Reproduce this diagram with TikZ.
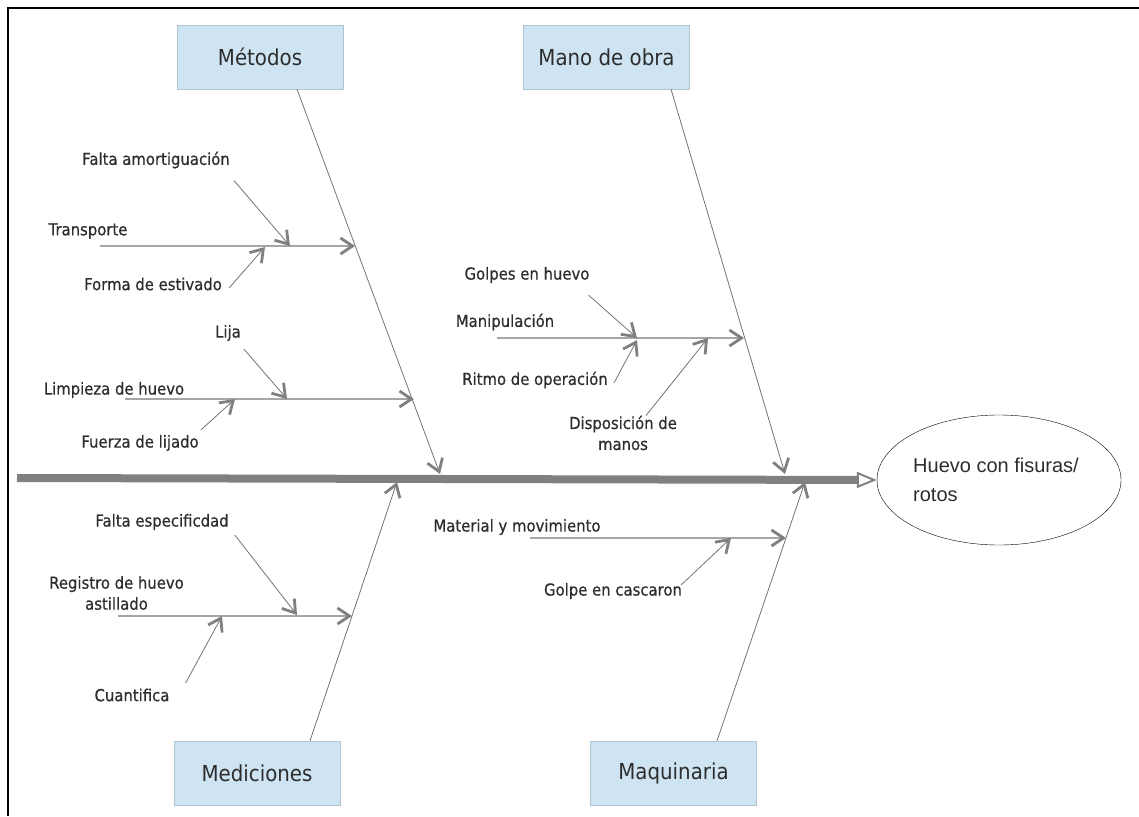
\documentclass[tikz,border=0pt]{standalone}
\usepackage{fontspec}
\usepackage{xcolor}
\usepackage{tikz}
\usetikzlibrary{arrows.meta, shapes.geometric, positioning, calc}
\newfontfamily\boxfont{DejaVu Sans}[FakeStretch=0.9]
\newfontfamily\lblfont{DejaVu Sans}[FakeStretch=0.9, FakeBold=0.6]
\newfontfamily\effont{Liberation Sans}
\definecolor{boxblue}{RGB}{207,228,242}
\definecolor{boxedge}{RGB}{176,196,212}
\definecolor{spinegray}{RGB}{128,128,128}
\definecolor{txtgray}{RGB}{45,45,45}
\tikzset{
  catarrow/.tip={Straight Barb[length=12pt, width=16pt, line width=2.8pt, color=spinegray]},
  catbox/.style={draw=boxedge, fill=boxblue, minimum width=166pt, minimum height=64pt,
    inner sep=0pt, text=txtgray, font=\boxfont\fontsize{22}{26}\selectfont},
  lbl/.style={text=txtgray, inner sep=0pt, align=center, font=\lblfont\fontsize{16.5}{21}\selectfont},
  bone/.style={draw=black!55, line width=0.8pt, -catarrow},
  subbone/.style={draw=black!35, line width=1.5pt, -catarrow},
  twig/.style={draw=black!55, line width=0.8pt, -catarrow},
}

\begin{document}
\begin{tikzpicture}[x=1pt, y=-1pt]
  \useasboundingbox (0,0) rectangle (1139,816);
  \draw[line width=1.6pt] (1139,8) -- (8,8) -- (8,816);

  \node[catbox] (metodos)    at (260,57)    {Métodos};
  \node[catbox] (manoobra)   at (606.5,57)  {Mano de obra};
  \node[catbox] (mediciones) at (257,773)   {Mediciones};
  \node[catbox] (maquinaria) at (673.5,773) {Maquinaria};
  \node[draw, ellipse, minimum width=244pt, minimum height=130pt, inner sep=0pt, align=left,
    text=txtgray, font=\effont\fontsize{20}{29}\selectfont] (efecto) at (999,480)
    {\hspace*{-6pt}Huevo con fisuras/\\\hspace*{-6pt}rotos};

  \coordinate (cola) at (17,478);
  \draw[line width=8pt, draw=spinegray,
    -{Triangle[open, length=20pt, width=16pt, line width=2pt, color=spinegray]}] (cola) -- (efecto.west);

  \coordinate (met)  at (440,474);
  \coordinate (mano) at (785,474);
  \coordinate (med)  at (397,482);
  \coordinate (maq)  at (805,482);
  \draw[bone] ([xshift=37pt]metodos.south) -- (met);
  \draw[bone] ([xshift=64.5pt]manoobra.south) -- (mano);
  \draw[bone] ([xshift=53pt]mediciones.north) -- (med);
  \draw[bone] ([xshift=43.5pt]maquinaria.north) -- (maq);

  \node[lbl] (transporte) at (88,231)   {Transporte};
  \node[lbl] (famort)     at (156,160)  {Falta amortiguación};
  \node[lbl] (festiv)     at (153,284)  {Forma de estivado};
  \node[lbl] (limpieza)   at (114,390)  {Limpieza de huevo};
  \node[lbl] (lija)       at (228,333)  {Lija};
  \node[lbl] (flijado)    at (140,443)  {Fuerza de lijado};
  \node[lbl] (manip)      at (505,322)  {Manipulación};
  \node[lbl] (golpes)     at (527,275)  {Golpes en huevo};
  \node[lbl] (ritmo)      at (535,380)  {Ritmo de operación};
  \node[lbl] (dispos)     at (623,433)  {Disposición de\\manos};
  \node[lbl] (material)   at (517,527)  {Material y movimiento};
  \node[lbl] (golpecasc)  at (613,591)  {Golpe en cascaron};
  \node[lbl] (registro)   at (116.5,593) {Registro de huevo\\astillado};
  \node[lbl] (fespec)     at (162,522)  {Falta especificdad};
  \node[lbl] (cuantif)    at (132,695)  {Cuantifica};

  \coordinate (t0) at (100,246);  \coordinate (t1) at (355,246);
  \coordinate (l0) at (125,399);  \coordinate (l1) at (414,399);
  \coordinate (p0) at (497,338);  \coordinate (p1) at (744,338);
  \coordinate (r0) at (118,616);  \coordinate (r1) at (352,616);
  \coordinate (v0) at (530,538);  \coordinate (v1) at (786,538);
  \draw[subbone] (t0) -- (t1);
  \draw[subbone] (l0) -- (l1);
  \draw[subbone] (p0) -- (p1);
  \draw[subbone] (r0) -- (r1);
  \draw[subbone] (v0) -- (v1);

  \draw[twig] ([shift={(4pt,-12pt)}]famort.south east) -- (290,246);
  \draw[twig] ([shift={(7pt,-4pt)}]festiv.east) -- (265,247);
  \draw[twig] ([shift={(3pt,-8pt)}]lija.south east) -- (287,399);
  \draw[twig] ([shift={(2pt,13pt)}]flijado.east) -- (235,399);
  \draw[twig] ([shift={(-1pt,-12pt)}]golpes.south east) -- (637,338);
  \draw[twig] ([shift={(6pt,-3pt)}]ritmo.east) -- (637,340);
  \draw[twig] ([shift={(23pt,0pt)}]dispos.north) -- (708,338);
  \draw[twig] ([shift={(-1pt,6pt)}]golpecasc.east) -- (731,538);
  \draw[twig] ([shift={(6pt,-13pt)}]fespec.east) -- (297,615);
  \draw[twig] ([shift={(16pt,12pt)}]cuantif.east) -- (222,616);
\end{tikzpicture}
\end{document}
